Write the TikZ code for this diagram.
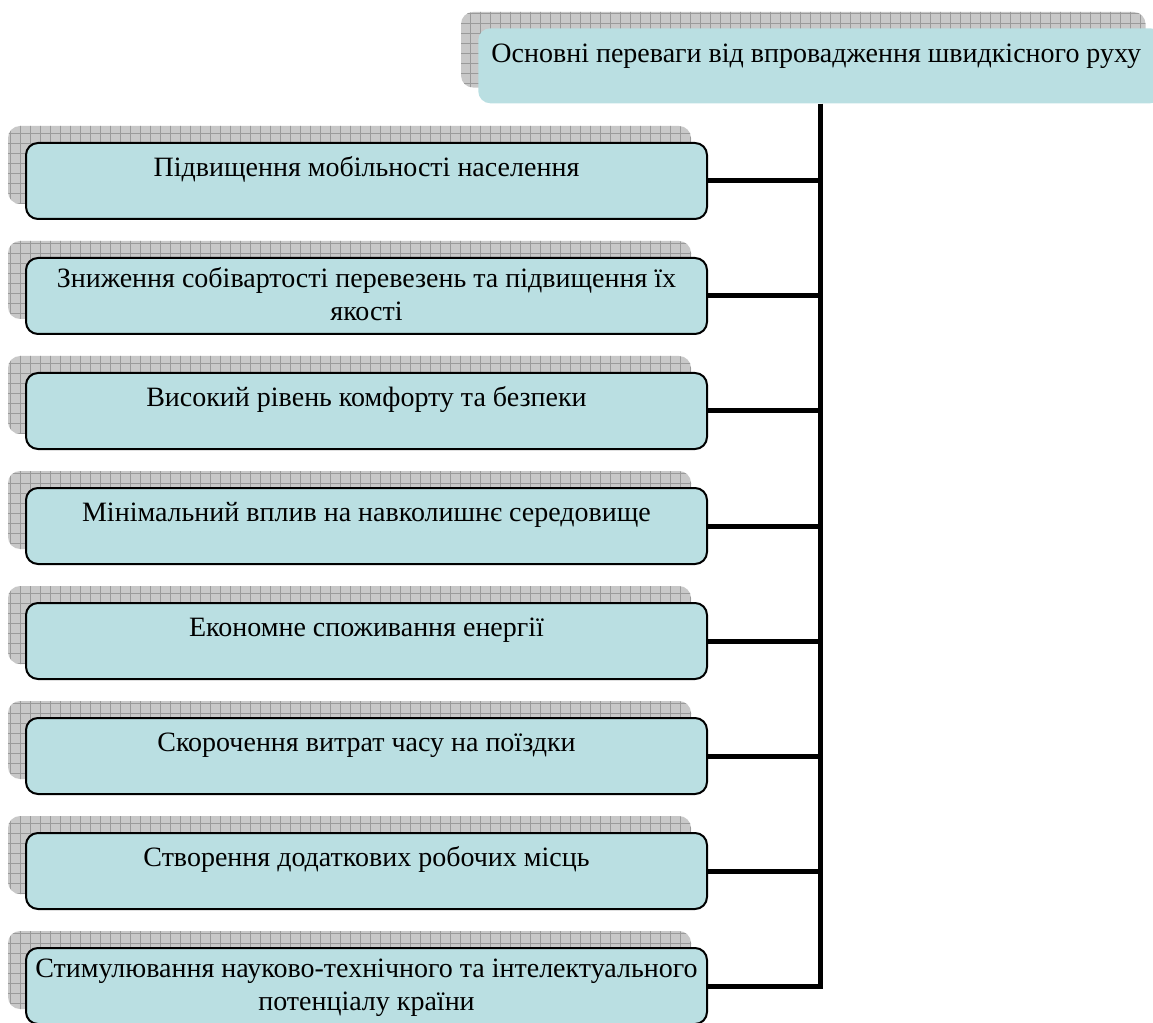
\documentclass[tikz,border=0pt]{standalone}
\usepackage{fontspec}
\setmainfont{Liberation Serif}
\usetikzlibrary{positioning,backgrounds,patterns.meta}
\definecolor{paleblue}{HTML}{BADFE2}
\definecolor{shadowgray}{HTML}{C8C8C8}
\definecolor{gridgray}{HTML}{9A9A9A}
\tikzset{
  boxbase/.style={rectangle, rounded corners=9pt, fill=paleblue, inner sep=0pt,
                  minimum width=510.75pt, minimum height=57pt},
  itembox/.style={boxbase, draw=black, line width=1.5pt},
  headbox/.style={boxbase, minimum width=513pt, minimum height=56.25pt},
  txt/.style={anchor=north, align=center, inner sep=0pt,
              font=\fontsize{21pt}{24.75pt}\selectfont, execute at begin node=\strut},
  shadowbox/.style={rounded corners=9pt, fill=shadowgray,
                    postaction={pattern={Hatch[angle=0, distance=7.5pt, line width=0.4pt]}, pattern color=gridgray}},
  link/.style={draw=black, line width=3.75pt}
}
\begin{document}
\begin{tikzpicture}[x=0.75pt, y=-0.75pt]
  \useasboundingbox (0,0) rectangle (1153,1023);
  \node[headbox, anchor=north west] (head) at (478,28) {};
  \node[txt] (headtxt) at ([xshift=-3pt, yshift=-8pt]head.north) {Основні переваги від впровадження швидкісного руху};
  \node[itembox, anchor=north west] (item1) at (25,142) {};
  \node[itembox, below=27.75pt of item1] (item2) {};
  \node[itembox, below=27.75pt of item2] (item3) {};
  \node[itembox, below=27.75pt of item3] (item4) {};
  \node[itembox, below=27.75pt of item4] (item5) {};
  \node[itembox, below=27.75pt of item5] (item6) {};
  \node[itembox, below=27.75pt of item6] (item7) {};
  \node[itembox, below=27.75pt of item7] (item8) {};
  \node[txt] (txt1) at ([yshift=-8pt]item1.north) {Підвищення мобільності населення};
  \node[txt] (txt2) at ([yshift=-8pt]item2.north) {Зниження собівартості перевезень та підвищення їх\\якості};
  \node[txt] (txt3) at ([yshift=-8pt]item3.north) {Високий рівень комфорту та безпеки};
  \node[txt] (txt4) at ([yshift=-8pt]item4.north) {Мінімальний вплив на навколишнє середовище};
  \node[txt] (txt5) at ([yshift=-8pt]item5.north) {Економне споживання енергії};
  \node[txt] (txt6) at ([yshift=-8pt]item6.north) {Скорочення витрат часу на поїздки};
  \node[txt] (txt7) at ([yshift=-8pt]item7.north) {Створення додаткових робочих місць};
  \node[txt] (txt8) at ([yshift=-8.8pt]item8.north) {Стимулювання науково-технічного та інтелектуального\\потенціалу країни};
  % shadows behind the boxes
  \begin{scope}[on background layer]
    \foreach \b in {head,item1,item2,item3,item4,item5,item6,item7,item8}
      \path[shadowbox] ([shift={(-17,-16)}]\b.north west) rectangle ([shift={(-17,-16)}]\b.south east);
  \end{scope}
  \draw[link] (head.south) -- ([yshift=-1.9pt]head.south |- item8.east);
  \foreach \i in {1,...,8} \draw[link] (item\i.east) -- (item\i.east -| head.south);
\end{tikzpicture}
\end{document}
